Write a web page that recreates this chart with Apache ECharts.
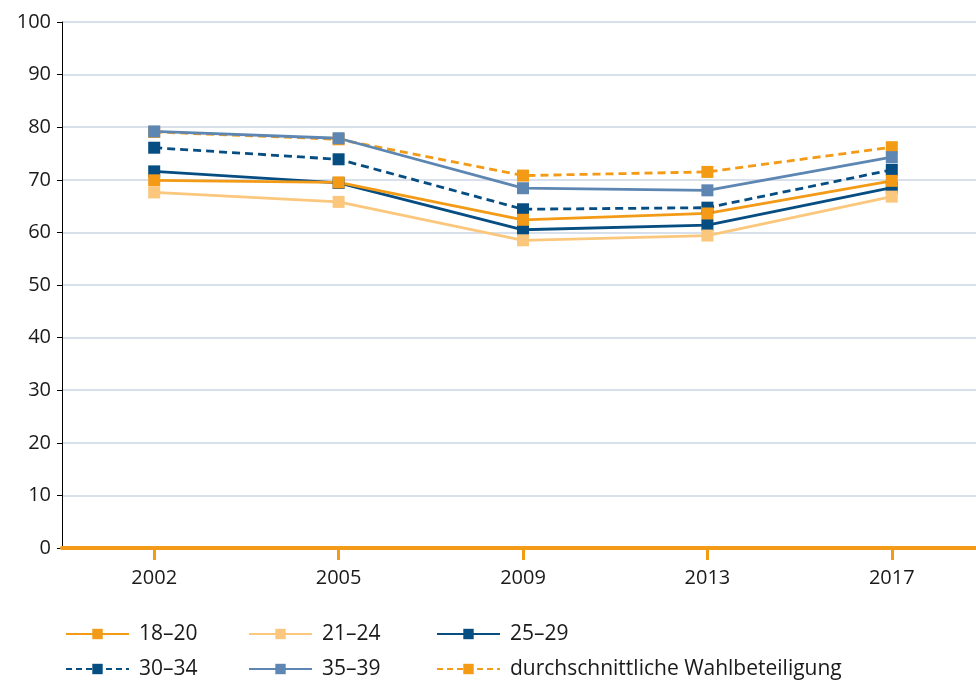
<!DOCTYPE html>
<html>
<head>
<meta charset="utf-8">
<script src="https://cdn.jsdelivr.net/npm/echarts@6/dist/echarts.min.js"></script>
<style>
html,body{margin:0;padding:0;background:#fff;}
#chart{width:976px;height:680px;}
</style>
</head>
<body>
<div id="chart"></div>
<script>
// Wahlbeteiligung nach Altersgruppen, Bundestagswahlen
const years = ['2002', '2005', '2009', '2013', '2017'];
const age18to20 = [69.9, 69.5, 62.4, 63.6, 69.8];
const age21to24 = [67.6, 65.8, 58.5, 59.4, 66.8];
const age25to29 = [71.6, 69.4, 60.5, 61.4, 68.5];
const age30to34 = [76.1, 73.9, 64.4, 64.7, 71.9];
const age35to39 = [79.2, 77.9, 68.4, 68.0, 74.3];
const average = [79.1, 77.7, 70.8, 71.5, 76.2];

const ORANGE = '#F39A16';
const LIGHT_ORANGE = '#FBC77C';
const DARK_BLUE = '#064D82';
const MID_BLUE = '#5D87B2';
const FONT = 'Open Sans';

function line(name, data, color, dashed) {
  return {
    name: name,
    type: 'line',
    data: data,
    symbol: 'rect',
    symbolSize: 12,
    showAllSymbol: true,
    lineStyle: {color: color, width: 2.8, type: dashed ? [8, 5] : 'solid'},
    itemStyle: {color: color},
    emphasis: {disabled: true},
    animation: false
  };
}

// draw order: later entries sit on top
const series = [
  line('durchschnittliche Wahlbeteiligung', average, ORANGE, true),
  line('30–34', age30to34, DARK_BLUE, true),
  line('25–29', age25to29, DARK_BLUE, false),
  line('35–39', age35to39, MID_BLUE, false),
  line('18–20', age18to20, ORANGE, false),
  line('21–24', age21to24, LIGHT_ORANGE, false)
];

// [name, left, top, dashed icon]
const legendSlots = [
  ['18–20', 65, 622, false],
  ['21–24', 248, 622, false],
  ['25–29', 436, 622, false],
  ['30–34', 65, 657, true],
  ['35–39', 248, 657, false],
  ['durchschnittliche Wahlbeteiligung', 436, 657, true]
];

const legends = legendSlots.map(s => {
  const lg = {
    data: [s[0]],
    left: s[1],
    top: s[2],
    itemWidth: 63,
    itemHeight: 13,
    itemGap: 0,
    padding: 0,
    selectedMode: false,
    textStyle: {fontFamily: FONT, fontSize: 21, lineHeight: 24, color: '#1a1a1a', padding: [0, 0, 0, 5]}
  };
  if (s[3]) lg.lineStyle = {type: [6, 4]};
  return lg;
});

const chart = echarts.init(document.getElementById('chart'), null, {renderer: 'canvas'});
chart.setOption({
  backgroundColor: '#fff',
  animation: false,
  // plot area runs a little past the right edge of the canvas
  grid: {left: 62, width: 922, top: 22, bottom: 132, containLabel: false, outerBoundsMode: 'none'},
  legend: legends,
  xAxis: {
    type: 'category',
    data: years,
    boundaryGap: true,
    axisLine: {show: true, lineStyle: {color: ORANGE, width: 4}},
    axisTick: {show: true, alignWithLabel: true, length: 12, lineStyle: {color: ORANGE, width: 3}},
    axisLabel: {fontFamily: FONT, fontSize: 20, color: '#1a1a1a', margin: 20},
    z: 10
  },
  yAxis: {
    type: 'value',
    min: 0,
    max: 100,
    interval: 10,
    axisLine: {show: true, lineStyle: {color: '#000', width: 1}},
    axisTick: {show: true, length: 5, lineStyle: {color: '#000', width: 1}},
    axisLabel: {fontFamily: FONT, fontSize: 20, color: '#1a1a1a', margin: 11},
    splitLine: {show: true, lineStyle: {color: '#CBD6E6', width: 1.5}}
  },
  series: series
});
</script>
</body>
</html>
